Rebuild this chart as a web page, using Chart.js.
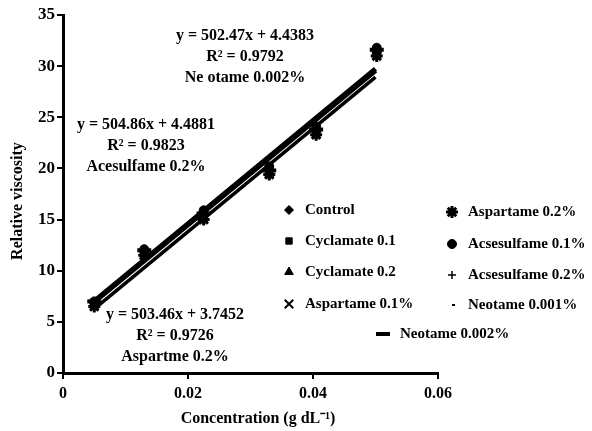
<!DOCTYPE html>
<html>
<head>
<meta charset="utf-8">
<script src="https://cdn.jsdelivr.net/npm/chart.js@4"></script>
<style>
    html, body { margin: 0; padding: 0; background: #fff; }
    #wrap { width: 592px; height: 431px; }
</style>
</head>
<body>
<div id="wrap"><canvas id="viscosity" width="592" height="431"></canvas></div>
<script>
// Concentrations (g dL-1)
const CONC = [0.005, 0.013, 0.0225, 0.033, 0.0405, 0.0502];

// Sweetener series
const SERIES = [
    'Control', 'Cyclamate 0.1', 'Cyclamate 0.2', 'Aspartame 0.1%', 'Aspartame 0.2%',
    'Acsesulfame 0.1%', 'Acsesulfame 0.2%', 'Neotame 0.001%', 'Neotame 0.002%'
];

// Relative viscosity per series
const CONTROL      = [6.6, 11.6, 15.4, 19.7, 23.5, 31.2];
const CYCLAMATE_1  = [6.8, 11.9, 15.6, 20.0, 23.8, 31.5];
const CYCLAMATE_2  = [6.9, 12.0, 15.8, 20.1, 24.0, 31.6];
const ASPARTAME_1  = [6.7, 11.7, 15.1, 19.6, 23.4, 31.3];
const ASPARTAME_2  = [6.5, 11.5, 15.0, 19.4, 23.3, 31.0];
const ACSESULF_1   = [7.0, 12.1, 15.9, 20.2, 24.1, 31.8];
const ACSESULF_2   = [6.8, 11.8, 15.5, 19.9, 23.7, 31.4];
const NEOTAME_1    = [6.9, 11.9, 15.7, 20.0, 23.9, 31.5];
const NEOTAME_2    = [7.0, 12.0, 15.6, 19.8, 23.8, 31.6];
const VALUES = [CONTROL, CYCLAMATE_1, CYCLAMATE_2, ASPARTAME_1, ASPARTAME_2,
                ACSESULF_1, ACSESULF_2, NEOTAME_1, NEOTAME_2];

// Fitted trend lines
const FIT_NAMES  = ['Ne otame 0.002%', 'Acesulfame 0.2%', 'Aspartme 0.2%'];
const SLOPES     = [502.47, 504.86, 503.46];
const INTERCEPTS = [4.4383, 4.4881, 3.7452];
const R2         = [0.9792, 0.9823, 0.9726];
const FIT_RANGE  = [0.005, 0.05];

// Tick labels
const X_TICKS = ['0', '0.02', '0.04', '0.06'];
const Y_TICKS = ['0', '5', '10', '15', '20', '25', '30', '35'];

const FONT = 'Liberation Serif, Times New Roman, serif';
const BLACK = '#000';

// marker for each series
const MARKERS = [
    { style: 'rectRot',  r: 4.5, w: 1 },
    { style: 'rect',     r: 4.5, w: 1 },
    { style: 'triangle', r: 5,   w: 1 },
    { style: 'crossRot', r: 6,   w: 2 },
    { style: 'star',     r: 6,   w: 3 },
    { style: 'circle',   r: 4.5, w: 1 },
    { style: 'cross',    r: 4,   w: 1.5 },
    { style: 'dash',     r: 3,   w: 2 },
    { style: 'line',     r: 7,   w: 4 }
];

// legend layout: [marker x, text x, y]
const LEGEND_POS = [
    [289, 305, 210], [289, 305, 241], [289, 305, 272], [289, 305, 304],
    [452, 468, 212], [452, 468, 244], [452, 468, 275], [452, 468, 305],
    [383, 400, 334]
];

// fit label layout: [center x, first line y]
const FIT_LABEL_POS = [[245, 36], [146, 125], [175, 315]];

function fit_line(i) {
    return FIT_RANGE.map(x => ({ x: x, y: SLOPES[i] * x + INTERCEPTS[i] }));
}

function build_datasets() {
    const lines = [
        { data: fit_line(0), borderWidth: 5 },
        { data: fit_line(1), borderWidth: 5 },
        { data: fit_line(2), borderWidth: 3.5 }
    ].map(d => Object.assign(d, {
        type: 'line', label: 'fit', borderColor: BLACK, pointRadius: 0,
        fill: false, order: 2
    }));

    const points = SERIES.map((name, i) => ({
        type: 'scatter',
        label: name,
        data: CONC.map((x, j) => ({ x: x, y: VALUES[i][j] })),
        pointStyle: MARKERS[i].style,
        pointRadius: MARKERS[i].r,
        pointBorderWidth: MARKERS[i].w,
        backgroundColor: BLACK,
        borderColor: BLACK,
        order: 1
    }));

    return lines.concat(points);
}

const textPlugin = {
    id: 'texts',
    afterDraw(chart) {
        const ctx = chart.ctx;
        ctx.save();
        ctx.fillStyle = BLACK;
        ctx.strokeStyle = BLACK;

        // fit equations
        ctx.font = 'bold 16px ' + FONT;
        ctx.textAlign = 'center';
        ctx.textBaseline = 'middle';
        FIT_NAMES.forEach((name, i) => {
            const [cx, y0] = FIT_LABEL_POS[i];
            ctx.fillText('y = ' + SLOPES[i] + 'x + ' + INTERCEPTS[i], cx, y0);
            ctx.fillText('R\u00B2 = ' + R2[i], cx, y0 + 21);
            ctx.fillText(name, cx, y0 + 42);
        });

        // legend
        ctx.font = 'bold 15px ' + FONT;
        ctx.textAlign = 'left';
        SERIES.forEach((name, i) => {
            const [mx, tx, y] = LEGEND_POS[i];
            const m = MARKERS[i];
            ctx.lineWidth = m.w;
            Chart.helpers.drawPoint(ctx, { pointStyle: m.style, radius: m.r, rotation: 0, borderWidth: m.w }, mx, y);
            ctx.fillText(name, tx, y);
        });

        // axis titles
        ctx.font = 'bold 16px ' + FONT;
        ctx.textAlign = 'center';
        ctx.fillText('Concentration (g dL\u207B\u00B9)', 258, 419);
        ctx.translate(18, 201);
        ctx.rotate(-Math.PI / 2);
        ctx.fillText('Relative viscosity', 0, 0);
        ctx.restore();
    }
};

window.onload = () => {
    new Chart(document.getElementById('viscosity'), {
        type: 'scatter',
        data: { datasets: build_datasets() },
        options: {
            responsive: false,
            animation: false,
            devicePixelRatio: 1,
            layout: { padding: { top: 15, right: 154, left: 0, bottom: 0 } },
            plugins: { legend: { display: false }, tooltip: { enabled: false } },
            scales: {
                x: {
                    type: 'linear', min: 0, max: 0.06,
                    afterFit: s => { s.height = 58; },
                    ticks: {
                        stepSize: 0.02, color: BLACK, padding: 5,
                        font: { family: FONT, size: 16, weight: 'bold' },
                        callback: (v, i) => X_TICKS[i]
                    },
                    grid: { drawOnChartArea: false, tickLength: 6, color: BLACK, lineWidth: 2 },
                    border: { color: BLACK, width: 3 }
                },
                y: {
                    min: 0, max: 35,
                    afterFit: s => { s.width = 63; },
                    ticks: {
                        stepSize: 5, color: BLACK, padding: 2,
                        font: { family: FONT, size: 17, weight: 'bold' },
                        callback: (v, i) => Y_TICKS[i]
                    },
                    grid: { drawOnChartArea: false, tickLength: 6, color: BLACK, lineWidth: 2 },
                    border: { color: BLACK, width: 3 }
                }
            }
        },
        plugins: [textPlugin]
    });
};
</script>
</body>
</html>
